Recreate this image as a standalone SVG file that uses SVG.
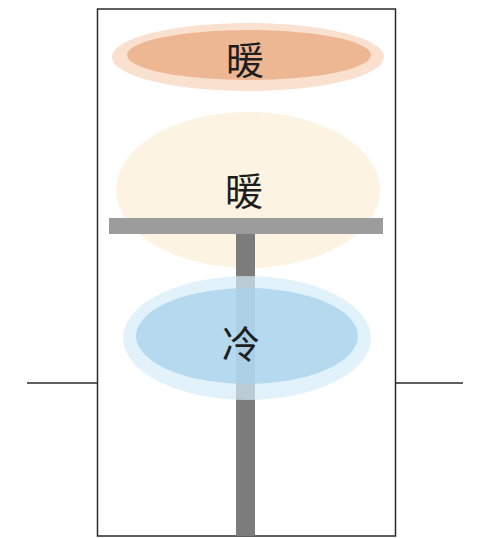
<svg xmlns="http://www.w3.org/2000/svg" width="481" height="538" viewBox="0 0 481 538">
<style>
.lbl{font-family:"Noto Sans CJK SC","Noto Sans CJK JP",sans-serif;font-size:38px;fill:#1e1e1e;text-anchor:middle;dominant-baseline:central}
.wall{fill:none;stroke:#2a2a2a;stroke-width:1.5}
</style>
<rect width="481" height="538" fill="#ffffff"/>
<g id="frame">
<rect class="wall" x="97.5" y="9" width="298" height="527"/>
<line class="wall" x1="27" y1="383" x2="97" y2="383"/>
<line class="wall" x1="396" y1="383" x2="463" y2="383"/>
</g>
<g id="warm-middle">
<ellipse cx="248" cy="190" rx="132" ry="78" fill="#fdf3e3"/>
<text class="lbl" x="244" y="188">暖</text>
</g>
<g id="table">
<rect x="236" y="230" width="19" height="306" fill="#7c7c7c"/>
<rect x="109" y="218" width="274" height="16" fill="#9c9c9c"/>
</g>
<g id="warm-top">
<ellipse cx="248" cy="57" rx="136" ry="34" fill="#f9e0cf"/>
<ellipse cx="249" cy="55" rx="122" ry="25" fill="#edb793"/>
<text class="lbl" x="245" y="57">暖</text>
</g>
<g id="cold">
<ellipse cx="247" cy="338" rx="124" ry="62" fill="#d4ecf8" opacity="0.7"/>
<ellipse cx="247" cy="336" rx="111" ry="48" fill="#a6d2ec" opacity="0.75"/>
<text class="lbl" x="241" y="341">冷</text>
</g>
<g id="connectors"></g>
</svg>
